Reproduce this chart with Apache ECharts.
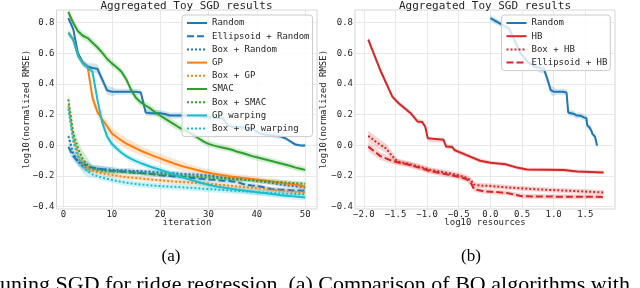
<!DOCTYPE html>
<html><head><meta charset="utf-8">
<script src="https://cdn.jsdelivr.net/npm/echarts@6/dist/echarts.min.js"></script>
<style>html,body{margin:0;padding:0;background:#fff}#c{width:640px;height:288px}</style>
</head><body><div id="c"></div>
<script>
// ---------- data ----------
const iterations = [1,2,3,4,5,6,7,8,9,10,11,12,13,14,15,16,17,18,19,20,21,22,23,24,25,26,27,28,29,30,31,32,33,34,35,36,37,38,39,40,41,42,43,44,45,46,47,48,49,50];

const randomVals = [0.83,0.76,0.60,0.54,0.515,0.505,0.50,0.43,0.36,0.35,0.35,0.35,0.35,0.35,0.35,0.345,0.215,0.21,0.21,0.21,0.205,0.195,0.195,0.195,0.195,0.193,0.192,0.19,0.185,0.183,0.181,0.179,0.177,0.13,0.12,0.12,0.117,0.115,0.11,0.09,0.075,0.07,0.068,0.062,0.058,0.045,0.025,0.005,0.0,0.0];
const ellRandomVals = [-0.01,-0.07,-0.105,-0.12,-0.135,-0.145,-0.15,-0.155,-0.16,-0.165,-0.168,-0.17,-0.172,-0.175,-0.178,-0.18,-0.183,-0.186,-0.19,-0.195,-0.198,-0.2,-0.203,-0.205,-0.208,-0.21,-0.213,-0.216,-0.22,-0.223,-0.225,-0.227,-0.23,-0.232,-0.235,-0.24,-0.25,-0.258,-0.262,-0.265,-0.27,-0.278,-0.285,-0.288,-0.29,-0.29,-0.292,-0.294,-0.295,-0.296];
const boxRandomVals = [0.06,-0.05,-0.105,-0.135,-0.145,-0.15,-0.152,-0.155,-0.157,-0.16,-0.16,-0.162,-0.163,-0.165,-0.167,-0.168,-0.17,-0.172,-0.174,-0.176,-0.178,-0.18,-0.182,-0.184,-0.186,-0.188,-0.19,-0.192,-0.194,-0.196,-0.2,-0.205,-0.21,-0.213,-0.215,-0.218,-0.22,-0.223,-0.226,-0.23,-0.235,-0.24,-0.245,-0.25,-0.255,-0.26,-0.263,-0.266,-0.27,-0.275];
const gpVals = [0.735,0.69,0.585,0.535,0.51,0.31,0.22,0.17,0.125,0.078,0.055,0.032,0.012,-0.004,-0.02,-0.035,-0.048,-0.06,-0.073,-0.085,-0.097,-0.108,-0.12,-0.13,-0.14,-0.148,-0.156,-0.164,-0.172,-0.179,-0.185,-0.19,-0.195,-0.2,-0.204,-0.208,-0.212,-0.216,-0.22,-0.224,-0.228,-0.232,-0.236,-0.24,-0.244,-0.248,-0.252,-0.257,-0.262,-0.268];
const boxGpVals = [0.26,0.05,-0.06,-0.12,-0.15,-0.165,-0.175,-0.182,-0.188,-0.193,-0.198,-0.203,-0.207,-0.21,-0.213,-0.216,-0.219,-0.222,-0.225,-0.228,-0.231,-0.234,-0.236,-0.238,-0.24,-0.242,-0.244,-0.246,-0.248,-0.25,-0.253,-0.256,-0.259,-0.262,-0.265,-0.268,-0.271,-0.274,-0.277,-0.28,-0.283,-0.286,-0.289,-0.292,-0.295,-0.298,-0.301,-0.304,-0.307,-0.31];
const smacVals = [0.87,0.80,0.745,0.715,0.70,0.67,0.64,0.605,0.565,0.535,0.51,0.48,0.43,0.36,0.31,0.28,0.26,0.24,0.215,0.195,0.175,0.155,0.135,0.115,0.10,0.085,0.065,0.045,0.025,0.01,0.0,-0.008,-0.015,-0.022,-0.03,-0.042,-0.05,-0.06,-0.07,-0.078,-0.086,-0.094,-0.102,-0.11,-0.118,-0.126,-0.135,-0.145,-0.152,-0.16];
const boxSmacVals = [0.30,0.08,-0.02,-0.09,-0.13,-0.15,-0.16,-0.165,-0.168,-0.17,-0.172,-0.174,-0.176,-0.178,-0.18,-0.182,-0.184,-0.186,-0.188,-0.19,-0.192,-0.194,-0.196,-0.198,-0.2,-0.202,-0.204,-0.206,-0.208,-0.21,-0.212,-0.214,-0.216,-0.218,-0.22,-0.222,-0.224,-0.226,-0.228,-0.23,-0.232,-0.234,-0.236,-0.238,-0.24,-0.242,-0.244,-0.246,-0.248,-0.25];
const gpwVals = [0.735,0.69,0.585,0.535,0.51,0.48,0.30,0.15,0.06,0.01,-0.02,-0.048,-0.07,-0.088,-0.103,-0.116,-0.128,-0.139,-0.149,-0.159,-0.17,-0.18,-0.191,-0.202,-0.212,-0.222,-0.231,-0.24,-0.249,-0.257,-0.264,-0.27,-0.275,-0.28,-0.285,-0.289,-0.293,-0.297,-0.301,-0.305,-0.309,-0.313,-0.317,-0.321,-0.325,-0.328,-0.331,-0.334,-0.337,-0.34];
const boxGpwVals = [0.24,0.03,-0.08,-0.14,-0.17,-0.19,-0.2,-0.21,-0.218,-0.225,-0.232,-0.238,-0.244,-0.248,-0.252,-0.255,-0.258,-0.261,-0.263,-0.265,-0.267,-0.269,-0.27,-0.272,-0.274,-0.276,-0.278,-0.28,-0.283,-0.285,-0.287,-0.289,-0.291,-0.293,-0.295,-0.297,-0.299,-0.301,-0.303,-0.305,-0.307,-0.309,-0.311,-0.313,-0.314,-0.315,-0.316,-0.317,-0.318,-0.32];

// band half-widths, one value per block of 5 iterations
const randomBand = [0.02,0.03,0.02,0.02,0.02,0.02,0.02,0.02,0.015,0.01];
const ellRandomBand = [0.03,0.02,0.015,0.015,0.015,0.015,0.015,0.015,0.015,0.015];
const boxRandomBand = [0.03,0.02,0.015,0.015,0.015,0.015,0.015,0.015,0.015,0.015];
const gpBand = [0.02,0.035,0.035,0.03,0.03,0.025,0.02,0.02,0.02,0.02];
const boxGpBand = [0.03,0.015,0.015,0.015,0.015,0.015,0.015,0.015,0.015,0.015];
const smacBand = [0.025,0.025,0.025,0.025,0.025,0.02,0.02,0.02,0.02,0.02];
const boxSmacBand = [0.05,0.015,0.015,0.015,0.015,0.015,0.015,0.015,0.015,0.015];
const gpwBand = [0.02,0.025,0.02,0.02,0.02,0.02,0.02,0.02,0.02,0.02];
const boxGpwBand = [0.04,0.02,0.02,0.02,0.02,0.02,0.02,0.02,0.02,0.02];

// right panel (log10 resources)
const hbX = [-1.93,-1.74,-1.55,-1.45,-1.26,-1.15,-1.08,-1.03,-0.99,-0.96,-0.74,-0.70,-0.60,-0.57,-0.47,-0.32,-0.16,0.0,0.24,0.42,0.58,1.16,1.37,1.79];
const hbY = [0.69,0.49,0.318,0.275,0.21,0.155,0.153,0.123,0.047,0.036,0.036,-0.008,-0.01,-0.03,-0.047,-0.073,-0.1,-0.113,-0.123,-0.145,-0.158,-0.16,-0.17,-0.177];
const hbBand = [0.02,0.02,0.015,0.015,0.015,0.015,0.015,0.015,0.015,0.015,0.015,0.015,0.015,0.015,0.015,0.015,0.015,0.012,0.012,0.012,0.012,0.012,0.012,0.012];
const boxHbX = [-1.93,-1.8,-1.65,-1.55,-1.47,-1.3,-1.11,-0.95,-0.68,-0.5,-0.37,-0.3,-0.26,-0.16,0.0,0.2,0.47,0.9,1.3,1.79];
const boxHbY = [0.062,0.02,-0.02,-0.07,-0.105,-0.12,-0.14,-0.16,-0.18,-0.195,-0.212,-0.23,-0.255,-0.262,-0.265,-0.272,-0.28,-0.29,-0.297,-0.307];
const boxHbBand = [0.035,0.035,0.03,0.025,0.02,0.018,0.018,0.018,0.018,0.018,0.018,0.018,0.018,0.016,0.016,0.016,0.016,0.016,0.016,0.016];
const ellHbX = [-1.93,-1.74,-1.53,-1.3,-1.11,-0.95,-0.68,-0.5,-0.37,-0.3,-0.26,-0.1,0.0,0.26,0.5,0.9,1.3,1.79];
const ellHbY = [-0.008,-0.07,-0.105,-0.125,-0.147,-0.168,-0.19,-0.205,-0.222,-0.25,-0.285,-0.3,-0.302,-0.31,-0.332,-0.334,-0.335,-0.336];
const ellHbBand = [0.03,0.025,0.02,0.018,0.018,0.018,0.018,0.018,0.018,0.018,0.018,0.016,0.016,0.016,0.016,0.016,0.016,0.016];

const yTicks = [-0.4,-0.2,0.0,0.2,0.4,0.6,0.8];
const xTicksLeft = [0,10,20,30,40,50];
const xTicksRight = [-2.0,-1.5,-1.0,-0.5,0.0,0.5,1.0,1.5];

const leftNames = ['Random','Ellipsoid + Random','Box + Random','GP','Box + GP','SMAC','Box + SMAC','GP warping','Box + GP warping'];
const rightNames = ['Random','HB','Box + HB','Ellipsoid + HB'];

// ---------- styles ----------
const C = {blue:'#1f77b4', orange:'#ff7f0e', green:'#2ca02c', cyan:'#17becf', red:'#d62728'};
const DOT = [2,2], DASH = [7,3];
const MONO = '"DejaVu Sans Mono", monospace';
const TXT = '#262626';

function minusFmt(d){ return v => { const s = d ? (+v).toFixed(d) : String(Math.round(v)); return s.replace('-', '\u2212'); }; }
function expand(blocks){ return iterations.map((_, k) => blocks[Math.floor(k/5)]); }

function lineSeries(name, xs, ys, color, type, gi){
  return {type:'line', name, xAxisIndex:gi, yAxisIndex:gi, symbol:'none', showSymbol:false, z:3,
    animation:false, silent:true, data: xs.map((x,k)=>[x, ys[k]]),
    lineStyle:{color, width:2, type}, itemStyle:{color}};
}
function bandSeries(name, xs, ys, hs, color, gi){
  return {type:'custom', name, xAxisIndex:gi, yAxisIndex:gi, z:1, silent:true, animation:false,
    data:[[xs[0], ys[0]]],
    renderItem(params, api){
      const pts = [];
      for (let k=0;k<xs.length;k++) pts.push(api.coord([xs[k], ys[k]+hs[k]]));
      for (let k=xs.length-1;k>=0;k--) pts.push(api.coord([xs[k], ys[k]-hs[k]]));
      const cs = params.coordSys;
      return {type:'polygon', shape:{points:pts}, style:{fill:color, opacity:0.2, stroke:null},
        clipPath:{type:'rect', shape:{x:cs.x, y:cs.y, width:cs.width, height:cs.height}}};
    }};
}

const leftDefs = [
  ['Random', randomVals, randomBand, C.blue, 'solid'],
  ['Ellipsoid + Random', ellRandomVals, ellRandomBand, C.blue, DASH],
  ['Box + Random', boxRandomVals, boxRandomBand, C.blue, DOT],
  ['GP', gpVals, gpBand, C.orange, 'solid'],
  ['Box + GP', boxGpVals, boxGpBand, C.orange, DOT],
  ['SMAC', smacVals, smacBand, C.green, 'solid'],
  ['Box + SMAC', boxSmacVals, boxSmacBand, C.green, DOT],
  ['GP warping', gpwVals, gpwBand, C.cyan, 'solid'],
  ['Box + GP warping', boxGpwVals, boxGpwBand, C.cyan, DOT]
];
const logIter = iterations.map(i => Math.log10(i));
const rightDefs = [
  ['Random', logIter, randomVals, expand(randomBand), C.blue, 'solid'],
  ['HB', hbX, hbY, hbBand, C.red, 'solid'],
  ['Box + HB', boxHbX, boxHbY, boxHbBand, C.red, DOT],
  ['Ellipsoid + HB', ellHbX, ellHbY, ellHbBand, C.red, DASH]
];

const series = [];
leftDefs.forEach(d => series.push(bandSeries('band ' + d[0], iterations, d[1], expand(d[2]), d[3], 0)));
leftDefs.forEach(d => series.push(lineSeries(d[0], iterations, d[1], d[3], d[4], 0)));
rightDefs.forEach(d => series.push(bandSeries('band r ' + d[0], d[1], d[2], d[3], d[4], 1)));
rightDefs.forEach(d => series.push(lineSeries(d[0], d[1], d[2], d[4], d[5], 1)));

const gridCommon = {show:true, borderColor:'#d6d6d6', borderWidth:1, backgroundColor:'#fff', containLabel:false};
function yAxisCfg(gi){
  return {type:'value', gridIndex:gi, min:-0.415, max:0.883,
    axisLine:{show:false}, axisTick:{show:false, customValues:yTicks},
    axisLabel:{customValues:yTicks, formatter:minusFmt(1), fontFamily:MONO, fontSize:9, color:TXT, margin:2},
    splitLine:{show:true, lineStyle:{color:'#e8e8e8', width:1}}};
}
function xAxisCfg(gi, min, max, ticks, dec){
  return {type:'value', gridIndex:gi, min, max,
    axisLine:{show:false}, axisTick:{show:false, customValues:ticks},
    axisLabel:{customValues:ticks, formatter:minusFmt(dec), fontFamily:MONO, fontSize:9, color:TXT, margin:1},
    splitLine:{show:true, lineStyle:{color:'#e8e8e8', width:1}}};
}
const legendCommon = {orient:'vertical', itemWidth:20, itemHeight:10, itemGap:3.2, padding:[3,3,3,4],
  backgroundColor:'rgba(255,255,255,0.8)', borderColor:'#cccccc', borderWidth:1, borderRadius:3,
  itemStyle:{opacity:0, borderWidth:0}, lineStyle:{width:2},
  textStyle:{fontFamily:MONO, fontSize:9, color:TXT, lineHeight:10}, selectedMode:false};

const txt = (text, x, y, font, extra) => Object.assign({type:'text', x, y, silent:true,
  style:{text, font, fill:TXT, align:'center', verticalAlign:'middle'}}, extra || {});

const option = {
  backgroundColor:'#fff', animation:false,
  grid:[Object.assign({left:56.5, top:10, width:260.5, height:199}, gridCommon),
        Object.assign({left:355, top:10, width:260, height:199}, gridCommon)],
  xAxis:[xAxisCfg(0, -1.45, 52.45, xTicksLeft, 0), xAxisCfg(1, -2.14, 1.97, xTicksRight, 1)],
  yAxis:[yAxisCfg(0), yAxisCfg(1)],
  legend:[Object.assign({data:leftNames, left:182, top:15}, legendCommon),
          Object.assign({data:rightNames, left:501.5, top:15}, legendCommon)],
  series,
  graphic:[
    txt('Aggregated Toy SGD results', 186.5, 6.5, '11px ' + MONO),
    txt('Aggregated Toy SGD results', 485, 6.5, '11px ' + MONO),
    txt('log10(normalized RMSE)', 26.7, 109.5, '9px ' + MONO, {rotation:Math.PI/2}),
    txt('log10(normalized RMSE)', 324, 109.5, '9px ' + MONO, {rotation:Math.PI/2}),
    txt('iteration', 187, 222.5, '9px ' + MONO),
    txt('log10 resources', 485, 222.5, '9px ' + MONO),
    {type:'text', x:171, y:257, silent:true, style:{text:'(a)', font:'17px "Liberation Serif", serif', fill:'#000', align:'center', verticalAlign:'middle'}},
    {type:'text', x:471, y:257, silent:true, style:{text:'(b)', font:'17px "Liberation Serif", serif', fill:'#000', align:'center', verticalAlign:'middle'}},
    {type:'text', x:0, y:285, silent:true, style:{text:'uning SGD for ridge regression. (a) Comparison of BO algorithms with', font:'22px "Liberation Serif", serif', fill:'#000', align:'left', verticalAlign:'middle'}}
  ]
};
const chart = echarts.init(document.getElementById('c'), null, {renderer:'canvas'});
chart.setOption(option);
</script></body></html>
